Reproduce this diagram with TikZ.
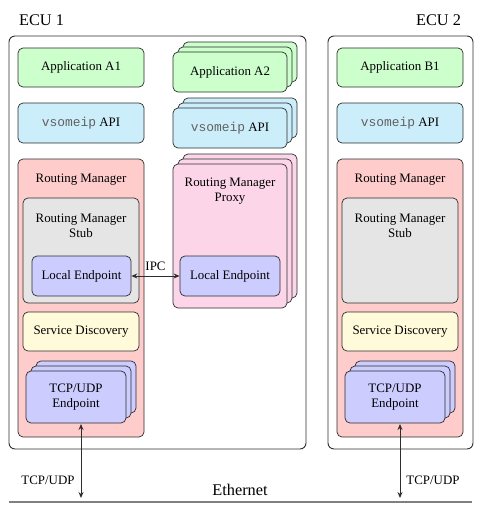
\documentclass[tikz,border=0pt]{standalone}
\usepackage{fontspec}
\setmainfont{Liberation Serif}
\setmonofont{Liberation Mono}
\usetikzlibrary{shadows,arrows.meta}
\definecolor{appc}{RGB}{204,255,204}
\definecolor{apic}{RGB}{204,238,251}
\definecolor{rmc}{RGB}{255,204,204}
\definecolor{stubc}{RGB}{229,229,229}
\definecolor{epc}{RGB}{204,204,255}
\definecolor{sdc}{RGB}{255,250,218}
\definecolor{proxyc}{RGB}{252,214,232}
\definecolor{linec}{RGB}{45,45,45}
\definecolor{ethc}{RGB}{128,128,128}
\newcommand{\vsapi}{{\color{black!62}\ttfamily vsomeip} API}
\begin{document}
\begin{tikzpicture}[x=1pt,y=-1pt,
  sz/.style 2 args={minimum width=#1pt, minimum height=#2pt},
  box/.style={draw=linec, line width=0.7pt, rounded corners=5pt, inner sep=0pt, align=center, font=\fontsize{12.9}{15}\selectfont},
  stack/.style={double copy shadow={shadow xshift=5pt, shadow yshift=5pt}},
  ecu/.style={draw=linec, line width=0.9pt, rounded corners=6pt, inner sep=0pt},
  txt/.style={inner sep=0pt, align=center, font=\fontsize{12.9}{15}\selectfont},
  big/.style={inner sep=0pt, font=\fontsize{16.3}{19}\selectfont},
  conn/.style={{Stealth[length=6pt,width=5pt]}-{Stealth[length=6pt,width=5pt]}, line width=0.9pt, draw=linec}]
\useasboundingbox (0,0) rectangle (484,519);

% ECU frames
\node[ecu, sz={297}{413}] (ecu1) at (157.5,242.5) {};
\node[ecu, sz={145}{413}] (ecu2) at (400.5,242.5) {};
\node[big] (ecu1l) at (41.5,20) {ECU 1};
\node[big] (ecu2l) at (438.5,20) {ECU 2};

% ---- ECU 1, left column
\node[box, fill=appc, sz={126}{39}] (appa1) at (81,67.5) {Application A1};
\node[box, fill=apic, sz={126}{40}] (apia1) at (81,123) {\vsapi};
\node[box, fill=rmc, sz={126}{278}] (rm1) at (81,298) {};
\node[txt] (rm1l) at (81,179.5) {Routing Manager};
\node[box, fill=stubc, sz={116}{105}] (stub1) at (81,250.5) {};
\node[txt] (stub1l) at (81,225.5) {Routing Manager\\Stub};
\node[box, fill=epc, sz={99}{40}] (le1) at (81.5,276) {Local Endpoint};
\node[box, fill=sdc, sz={116}{39}] (sd1) at (81,331.5) {Service Discovery};
\node[box, fill=epc, stack, sz={100}{52}] (tcp1) at (76,397) {TCP/UDP\\Endpoint};

% ---- ECU 1, right column (stacked)
\node[box, fill=appc, stack, sz={114}{40}] (appa2) at (230,72) {Application A2};
\node[box, fill=apic, stack, sz={114}{40}] (apia2) at (230,128) {\vsapi};
\node[box, fill=proxyc, stack, sz={114}{144}] (proxy) at (230,236) {};
\node[txt] (proxyl) at (230,191.5) {Routing Manager\\Proxy};
\node[box, fill=epc, sz={100}{40}] (le2) at (230,276) {Local Endpoint};

\draw[conn] (le1.east) -- node[txt, above=5pt] (ipc) {IPC} (le2.west);

% ---- ECU 2
\node[box, fill=appc, sz={126}{39}] (appb1) at (400,67.5) {Application B1};
\node[box, fill=apic, sz={126}{40}] (apib1) at (400,123) {\vsapi};
\node[box, fill=rmc, sz={126}{278}] (rm2) at (400,298) {};
\node[txt] (rm2l) at (400,179.5) {Routing Manager};
\node[box, fill=stubc, sz={116}{105}] (stub2) at (400,250.5) {};
\node[txt] (stub2l) at (400,225.5) {Routing Manager\\Stub};
\node[box, fill=sdc, sz={116}{39}] (sd2) at (400,331.5) {Service Discovery};
\node[box, fill=epc, stack, sz={100}{52}] (tcp2) at (395,397) {TCP/UDP\\Endpoint};

% ---- Ethernet
\coordinate (ethl) at (9,502);
\coordinate (ethr) at (472,502);
\draw[ethc, line width=1.8pt] (ethl) -- (ethr);
\node[big] (ethlab) at (240,490) {Ethernet};

\coordinate (e1) at (81,498);
\coordinate (e2) at (400,498);
\coordinate (t1) at (81,424);
\coordinate (t2) at (400,424);
\draw[conn] (t1) -- (e1);
\draw[conn] (t2) -- (e2);
\node[txt] (tcpl1) at (48,480) {TCP/UDP};
\node[txt] (tcpl2) at (433,480) {TCP/UDP};
\end{tikzpicture}
\end{document}
